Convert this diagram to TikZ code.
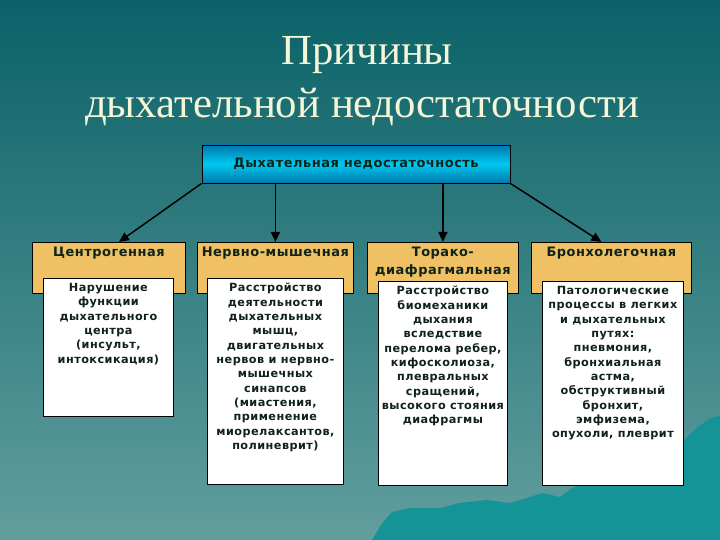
\documentclass[tikz,border=0pt]{standalone}
\usepackage{fontspec}
\setmainfont{Liberation Serif}
\newfontfamily\boxfont[LetterSpace=4]{DejaVu Sans}
\usetikzlibrary{positioning,arrows.meta}

\definecolor{bgtop}{RGB}{10,98,104}
\definecolor{bgbot}{RGB}{98,158,158}
\definecolor{hill}{RGB}{20,148,150}
\definecolor{titlecol}{RGB}{245,245,215}
\definecolor{rootcol}{RGB}{0,200,240}
\definecolor{rootdark}{RGB}{0,120,170}
\definecolor{hdrcol}{RGB}{240,192,100}
\definecolor{inkcol}{RGB}{15,35,25}

\tikzset{
  title/.style = {text=titlecol, font=\fontsize{43}{47}\selectfont, inner sep=0pt},
  box/.style = {draw=black, line width=0.8bp, inner sep=0pt},
  rootbox/.style = {box, top color=rootdark, bottom color=rootdark, middle color=rootcol,
      minimum width=308bp, minimum height=38bp,
      text=inkcol, font=\boxfont\bfseries\fontsize{13}{15}\selectfont},
  hdr/.style = {box, fill=hdrcol, minimum height=51bp, anchor=north west},
  wbox/.style = {box, fill=white, anchor=north west},
  htext/.style = {text=inkcol, align=center, inner sep=0pt,
      font=\boxfont\bfseries\fontsize{13}{18}\selectfont},
  wtext/.style = {text=inkcol, align=center, inner sep=0pt,
      font=\boxfont\bfseries\fontsize{11.3}{14.4}\selectfont},
  arr/.style = {-{Triangle[width=9bp,length=10bp]}, line width=1.5bp, black}
}

\begin{document}
\begin{tikzpicture}[x=1bp, y=-1bp]

    \useasboundingbox (0,0) rectangle (720,540);
    \shade[top color=bgtop, bottom color=bgbot] (0,0) rectangle (720,540);

    % hills
    \fill[hill] (372,540) -- (381,525) -- (392,512) -- (410,508) -- (441,508)
        -- (459,503) -- (487,500) -- (510,503) -- (530,497) -- (542,493)
        -- (560,497) -- (574,487) -- (600,482) -- (630,470) -- (660,455)
        -- (684,440) -- (698,427) -- (710,418) -- (720,416) -- (720,540) -- cycle;

    % title
    \node[title, anchor=base] (tA) at (367,65) {Причины};
    \node[title, anchor=base] (tB) at (362,118) {дыхательной недостаточности};

    \node[rootbox] (root) at (356,164) {Дыхательная недостаточность};

    % headers
    \node[hdr, minimum width=153bp] (h1) at (32,242) {};
    \node[hdr, minimum width=156bp] (h2) at (197,242) {};
    \node[hdr, minimum width=151bp] (h3) at (367,242) {};
    \node[hdr, minimum width=160bp] (h4) at (531,242) {};

    \node[htext, below=5bp of h1.north] (l1) {Центрогенная};
    \node[htext, below=5bp of h2.north] (l2) {Нервно-мышечная};
    \node[htext, below=5bp of h3.north] (l3) {Торако-\\диафрагмальная};
    \node[htext, below=5bp of h4.north] (l4) {Бронхолегочная};

    % white boxes
    \node[wbox, minimum width=130bp, minimum height=138bp] (w1) at (43,278) {};
    \node[wbox, minimum width=136bp, minimum height=206bp] (w2) at (207,278) {};
    \node[wbox, minimum width=129bp, minimum height=204bp] (w3) at (378,281) {};
    \node[wbox, minimum width=141bp, minimum height=204bp] (w4) at (542,281) {};

    \node[wtext, below=5bp of w1.north] (d1) {Нарушение\\функции\\дыхательного\\центра\\(инсульт,\\интоксикация)};
    \node[wtext, below=5bp of w2.north] (d2) {Расстройство\\деятельности\\дыхательных\\мышц,\\двигательных\\нервов и нервно-\\мышечных\\синапсов\\(миастения,\\применение\\миорелаксантов,\\полиневрит)};
    \node[wtext, below=5bp of w3.north] (d3) {Расстройство\\биомеханики\\дыхания\\вследствие\\перелома ребер,\\кифосколиоза,\\плевральных\\сращений,\\высокого стояния\\диафрагмы};
    \node[wtext, below=5bp of w4.north] (d4) {Патологические\\процессы в легких\\и дыхательных\\путях:\\пневмония,\\бронхиальная\\астма,\\обструктивный\\бронхит,\\эмфизема,\\опухоли, плеврит};

    % arrows
    \draw[arr] (root.south west) -- ([xshift=10bp]h1.north);
    \draw[arr] (root.south -| h2.north) -- (h2.north);
    \draw[arr] (root.south -| h3.north) -- (h3.north);
    \draw[arr] (root.south east) -- ([xshift=-10bp]h4.north);

\end{tikzpicture}
\end{document}
